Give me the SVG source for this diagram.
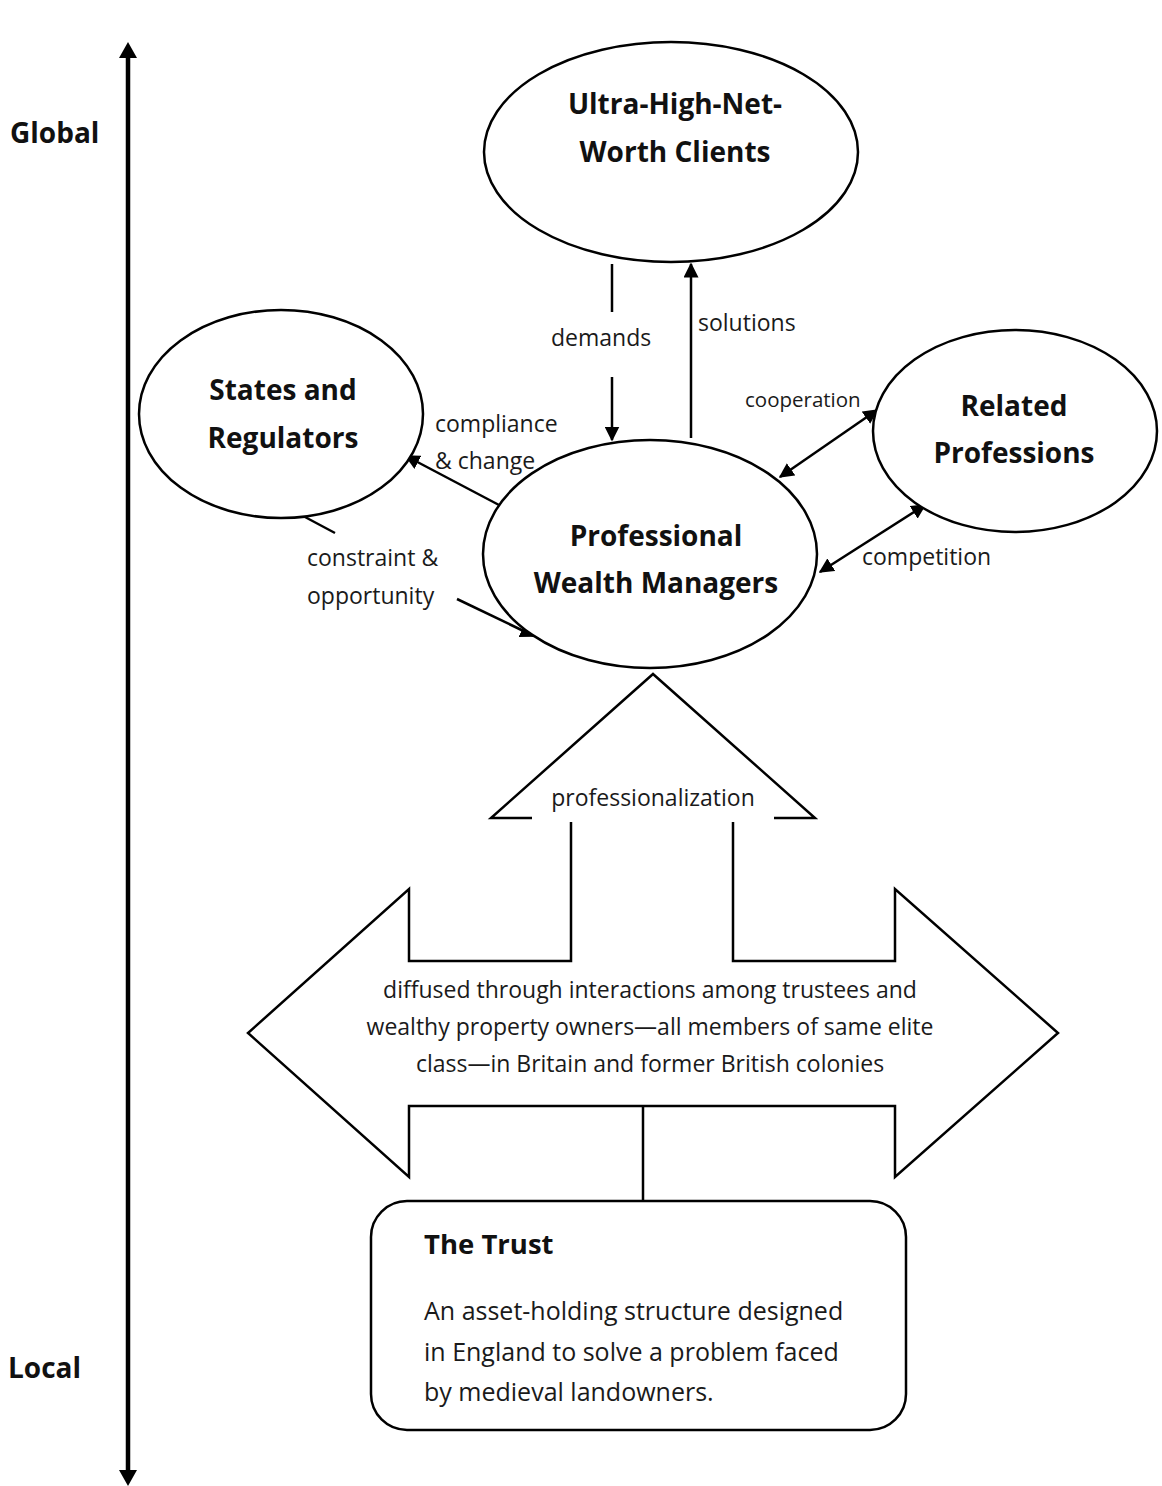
<svg xmlns="http://www.w3.org/2000/svg" width="1162" height="1486" viewBox="0 0 1162 1486">
<defs>
<style>
.ln{fill:none;stroke:#000;stroke-width:2.5}
.sh{fill:#fff;stroke:#000;stroke-width:2.5}
.t{font-family:"Open Sans","Liberation Sans",sans-serif;fill:#1a1a1a}
.b{font-family:"Open Sans","Liberation Sans",sans-serif;font-weight:bold;fill:#111}
.lbl{font-size:23px}
.node{font-size:28px;text-anchor:middle}
</style>
<marker id="ahs" viewBox="0 0 10 10" refX="9" refY="5" markerWidth="6" markerHeight="6" orient="auto-start-reverse">
<path d="M0,0 L10,5 L0,10 z" fill="#000"/>
</marker>
</defs>
<g id="axis">
<line x1="128" y1="56" x2="128" y2="1472" stroke="#000" stroke-width="4.5"/>
<path d="M128,42 L137,58 L119,58 z" fill="#000"/>
<path d="M128,1486 L137,1470 L119,1470 z" fill="#000"/>
<text class="b" x="10" y="143" font-size="28">Global</text>
<text class="b" x="8" y="1378" font-size="28">Local</text>
</g>
<g id="connectors">
<line class="ln" x1="612" y1="264" x2="612" y2="312"/>
<line class="ln" x1="612" y1="377" x2="612" y2="440" marker-end="url(#ahs)"/>
<line class="ln" x1="691" y1="438" x2="691" y2="264" marker-end="url(#ahs)"/>
<line class="ln" x1="499" y1="505" x2="406" y2="456" marker-end="url(#ahs)"/>
<line class="ln" x1="305" y1="517" x2="335" y2="533"/>
<line class="ln" x1="457" y1="599" x2="534" y2="636" marker-end="url(#ahs)"/>
<line class="ln" x1="780" y1="477" x2="877" y2="410" marker-start="url(#ahs)" marker-end="url(#ahs)"/>
<line class="ln" x1="820" y1="572" x2="925" y2="505" marker-start="url(#ahs)" marker-end="url(#ahs)"/>
<text class="t lbl" x="551" y="346">demands</text>
<text class="t lbl" x="698" y="331">solutions</text>
<text class="t lbl" x="435" y="432">compliance</text>
<text class="t lbl" x="435" y="469">&amp; change</text>
<text class="t lbl" x="307" y="566">constraint &amp;</text>
<text class="t lbl" x="307" y="604">opportunity</text>
<text class="t" x="745" y="407" font-size="20.5">cooperation</text>
<text class="t lbl" x="862" y="565">competition</text>
</g>
<g id="clients">
<ellipse class="sh" cx="671" cy="152" rx="187" ry="110"/>
<text class="b node" x="675" y="114">Ultra-High-Net-</text>
<text class="b node" x="675" y="162">Worth Clients</text>
</g>
<g id="states">
<ellipse class="sh" cx="281" cy="414" rx="142" ry="104"/>
<text class="b node" x="283" y="400">States and</text>
<text class="b node" x="283" y="448">Regulators</text>
</g>
<g id="related">
<ellipse class="sh" cx="1015" cy="431" rx="142" ry="101"/>
<text class="b node" x="1014" y="416">Related</text>
<text class="b node" x="1014" y="463">Professions</text>
</g>
<g id="managers">
<ellipse class="sh" cx="650" cy="554" rx="167" ry="114"/>
<text class="b node" x="656" y="546">Professional</text>
<text class="b node" x="656" y="593">Wealth Managers</text>
</g>
<g id="professionalization">
<path class="ln" d="M532,818 L491,818 L653,674 L815,818 L774,818"/>
<text class="t lbl" x="653" y="806" text-anchor="middle">professionalization</text>
</g>
<g id="diffusion">
<path class="ln" d="M571,822 L571,961 L409,961 L409,889 L248,1033 L409,1177 L409,1106 L895,1106 L895,1177 L1058,1033 L895,889 L895,961 L733,961 L733,822"/>
<line class="ln" x1="643" y1="1106" x2="643" y2="1201"/>
<text class="t lbl" x="650" y="998" text-anchor="middle">diffused through interactions among trustees and</text>
<text class="t lbl" x="650" y="1035" text-anchor="middle">wealthy property owners—all members of same elite</text>
<text class="t lbl" x="650" y="1072" text-anchor="middle">class—in Britain and former British colonies</text>
</g>
<g id="trust">
<rect class="sh" x="371" y="1201" width="535" height="229" rx="36" ry="36"/>
<text class="b" x="424" y="1254" font-size="27.5">The Trust</text>
<text class="t" x="424" y="1320" font-size="25">An asset-holding structure designed</text>
<text class="t" x="424" y="1361" font-size="25">in England to solve a problem faced</text>
<text class="t" x="424" y="1401" font-size="25">by medieval landowners.</text>
</g>
</svg>
